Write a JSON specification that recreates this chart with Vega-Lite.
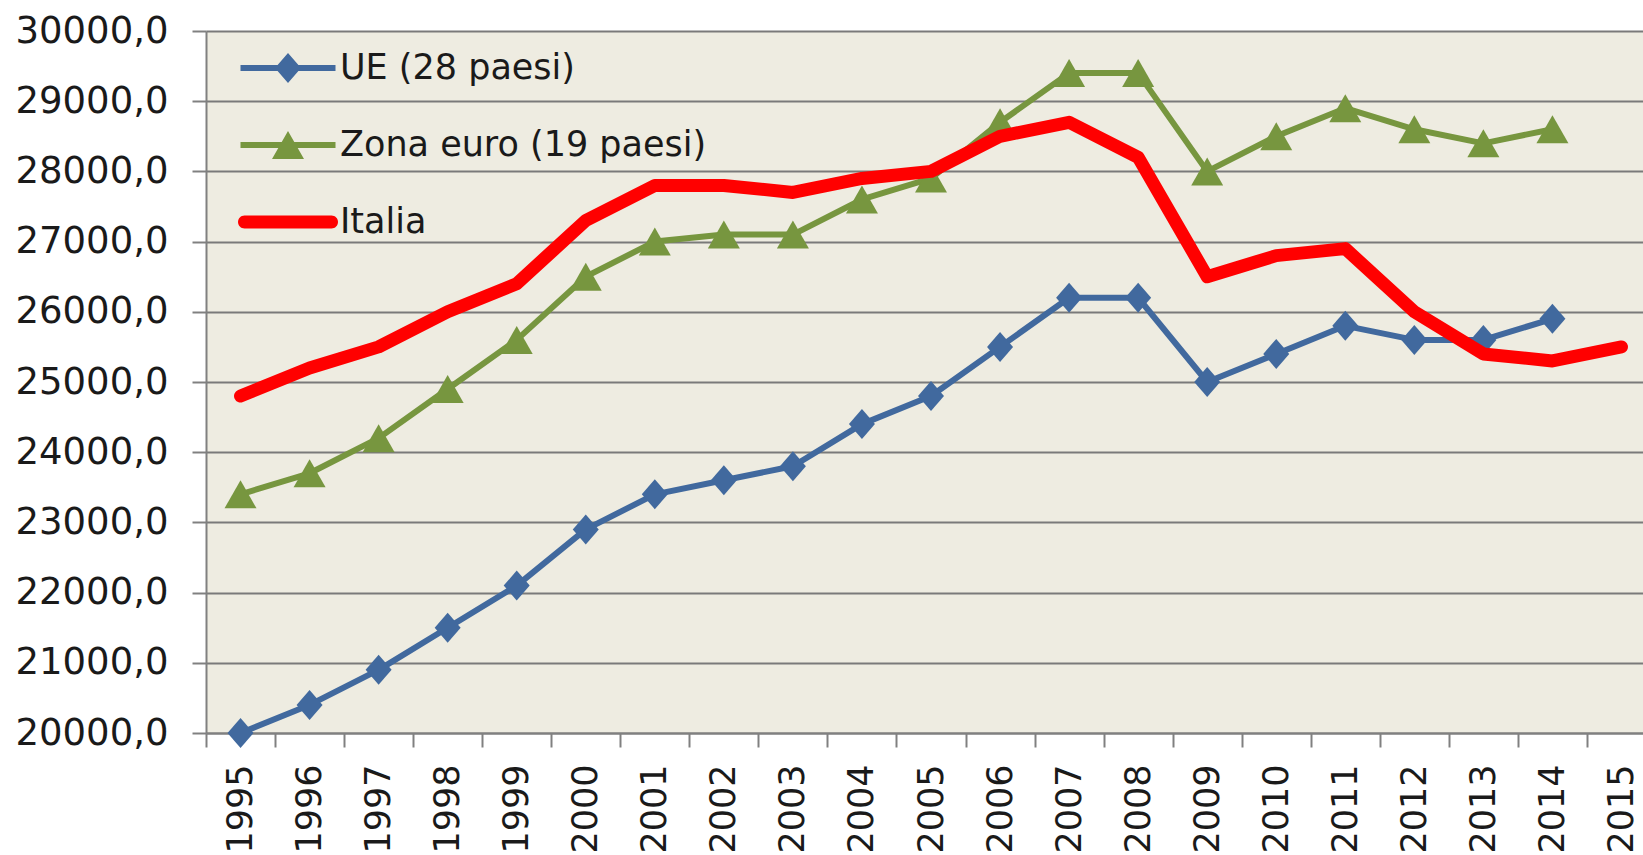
{
  "$schema": "https://vega.github.io/schema/vega-lite/v6.json",
  "autosize": "none",
  "width": 1437,
  "height": 702,
  "padding": {"left": 206, "top": 31, "right": 0, "bottom": 122},
  "background": "white",
  "config": {
    "view": {"fill": "#EEECE1", "stroke": null},
    "font": "DejaVu Sans"
  },
  "datasets": {
    "d": [
      {"year": "1995", "series": "UE (28 paesi)", "value": 20000},
      {"year": "1996", "series": "UE (28 paesi)", "value": 20400},
      {"year": "1997", "series": "UE (28 paesi)", "value": 20900},
      {"year": "1998", "series": "UE (28 paesi)", "value": 21500},
      {"year": "1999", "series": "UE (28 paesi)", "value": 22100},
      {"year": "2000", "series": "UE (28 paesi)", "value": 22900},
      {"year": "2001", "series": "UE (28 paesi)", "value": 23400},
      {"year": "2002", "series": "UE (28 paesi)", "value": 23600},
      {"year": "2003", "series": "UE (28 paesi)", "value": 23800},
      {"year": "2004", "series": "UE (28 paesi)", "value": 24400},
      {"year": "2005", "series": "UE (28 paesi)", "value": 24800},
      {"year": "2006", "series": "UE (28 paesi)", "value": 25500},
      {"year": "2007", "series": "UE (28 paesi)", "value": 26200},
      {"year": "2008", "series": "UE (28 paesi)", "value": 26200},
      {"year": "2009", "series": "UE (28 paesi)", "value": 25000},
      {"year": "2010", "series": "UE (28 paesi)", "value": 25400},
      {"year": "2011", "series": "UE (28 paesi)", "value": 25800},
      {"year": "2012", "series": "UE (28 paesi)", "value": 25600},
      {"year": "2013", "series": "UE (28 paesi)", "value": 25600},
      {"year": "2014", "series": "UE (28 paesi)", "value": 25900},
      {"year": "1995", "series": "Zona euro (19 paesi)", "value": 23400},
      {"year": "1996", "series": "Zona euro (19 paesi)", "value": 23700},
      {"year": "1997", "series": "Zona euro (19 paesi)", "value": 24200},
      {"year": "1998", "series": "Zona euro (19 paesi)", "value": 24900},
      {"year": "1999", "series": "Zona euro (19 paesi)", "value": 25600},
      {"year": "2000", "series": "Zona euro (19 paesi)", "value": 26500},
      {"year": "2001", "series": "Zona euro (19 paesi)", "value": 27000},
      {"year": "2002", "series": "Zona euro (19 paesi)", "value": 27100},
      {"year": "2003", "series": "Zona euro (19 paesi)", "value": 27100},
      {"year": "2004", "series": "Zona euro (19 paesi)", "value": 27600},
      {"year": "2005", "series": "Zona euro (19 paesi)", "value": 27900},
      {"year": "2006", "series": "Zona euro (19 paesi)", "value": 28700},
      {"year": "2007", "series": "Zona euro (19 paesi)", "value": 29400},
      {"year": "2008", "series": "Zona euro (19 paesi)", "value": 29400},
      {"year": "2009", "series": "Zona euro (19 paesi)", "value": 28000},
      {"year": "2010", "series": "Zona euro (19 paesi)", "value": 28500},
      {"year": "2011", "series": "Zona euro (19 paesi)", "value": 28900},
      {"year": "2012", "series": "Zona euro (19 paesi)", "value": 28600},
      {"year": "2013", "series": "Zona euro (19 paesi)", "value": 28400},
      {"year": "2014", "series": "Zona euro (19 paesi)", "value": 28600},
      {"year": "1995", "series": "Italia", "value": 24800},
      {"year": "1996", "series": "Italia", "value": 25200},
      {"year": "1997", "series": "Italia", "value": 25500},
      {"year": "1998", "series": "Italia", "value": 26000},
      {"year": "1999", "series": "Italia", "value": 26400},
      {"year": "2000", "series": "Italia", "value": 27300},
      {"year": "2001", "series": "Italia", "value": 27800},
      {"year": "2002", "series": "Italia", "value": 27800},
      {"year": "2003", "series": "Italia", "value": 27700},
      {"year": "2004", "series": "Italia", "value": 27900},
      {"year": "2005", "series": "Italia", "value": 28000},
      {"year": "2006", "series": "Italia", "value": 28500},
      {"year": "2007", "series": "Italia", "value": 28700},
      {"year": "2008", "series": "Italia", "value": 28200},
      {"year": "2009", "series": "Italia", "value": 26500},
      {"year": "2010", "series": "Italia", "value": 26800},
      {"year": "2011", "series": "Italia", "value": 26900},
      {"year": "2012", "series": "Italia", "value": 26000},
      {"year": "2013", "series": "Italia", "value": 25400},
      {"year": "2014", "series": "Italia", "value": 25300},
      {"year": "2015", "series": "Italia", "value": 25500}
    ]
  },
  "data": {"name": "d"},
  "encoding": {
    "x": {
      "field": "year", "type": "ordinal",
      "scale": {"type": "band", "paddingInner": 0, "paddingOuter": 0, "range": [0, 1450],
        "domain": ["1995","1996","1997","1998","1999","2000","2001","2002","2003","2004","2005","2006","2007","2008","2009","2010","2011","2012","2013","2014","2015"]},
      "axis": {
        "title": null, "labelAngle": -90, "labelFontSize": 35, "labelColor": "#1a1a1a",
        "labelPadding": 17, "tickBand": "extent", "tickSize": 14, "tickColor": "#808080", "tickWidth": 2,
        "domainColor": "#808080", "domainWidth": 2, "grid": false, "labelOverlap": false
      }
    },
    "y": {
      "field": "value", "type": "quantitative",
      "scale": {"domain": [20000, 30000], "nice": false, "zero": false},
      "axis": {
        "title": null, "values": [20000,21000,22000,23000,24000,25000,26000,27000,28000,29000,30000],
        "labelExpr": "replace(format(datum.value, '.1f'), '.', ',')",
        "labelFontSize": 37, "labelColor": "#1a1a1a", "labelPadding": 24,
        "tickSize": 14, "tickColor": "#808080", "tickWidth": 2,
        "domainColor": "#808080", "domainWidth": 2,
        "grid": true, "gridColor": "#7a7a7a", "gridWidth": 2
      }
    },
    "color": {
      "field": "series", "type": "nominal",
      "scale": {"domain": ["UE (28 paesi)", "Zona euro (19 paesi)", "Italia"], "range": ["#41699E", "#77963F", "#FF0000"]},
      "legend": {
        "title": null, "orient": "none", "legendX": 62, "legendY": 17,
        "symbolSize": 1600, "labelOffset": 32, "rowPadding": 39, "labelLimit": 0,
        "labelFontSize": 35, "labelColor": "#1a1a1a", "labelFont": "DejaVu Sans",
        "encode": {
          "symbols": {
            "update": {
              "shape": {"signal": "datum.value === 'Italia' ? 'M-2.175,-0.325H2.175A0.325,0.325,0,0,1,2.175,0.325H-2.175A0.325,0.325,0,0,1,-2.175,-0.325Z' : (datum.value === 'UE (28 paesi)' ? 'M-2.375,-0.15H2.375V0.15H-2.375Z M-0.65,0L0,-0.75L0.65,0L0,0.75Z' : 'M-2.375,-0.15H2.375V0.15H-2.375Z M0,-0.7L0.8,0.7L-0.8,0.7Z')"},
              "fill": {"signal": "scale('color', datum.value)"},
              "stroke": {"value": "transparent"},
              "strokeWidth": {"value": 0},
              "opacity": {"value": 1},
              "fillOpacity": {"value": 1}
            }
          }
        }
      }
    }
  },
  "layer": [
    {
      "transform": [{"filter": "datum.series !== 'Italia'"}],
      "mark": {"type": "line", "strokeWidth": 6, "strokeJoin": "round"}
    },
    {
      "transform": [{"filter": "datum.series !== 'Italia'"}],
      "mark": {"type": "point", "filled": true, "opacity": 1, "size": 400},
      "encoding": {
        "shape": {
          "field": "series", "type": "nominal",
          "scale": {"domain": ["UE (28 paesi)", "Zona euro (19 paesi)"], "range": ["M-1.3,0L0,-1.5L1.3,0L0,1.5Z", "M0,-1.4L1.6,1.4L-1.6,1.4Z"]},
          "legend": null
        }
      }
    },
    {
      "transform": [{"filter": "datum.series === 'Italia'"}],
      "mark": {"type": "line", "strokeWidth": 13, "strokeJoin": "round", "strokeCap": "round"}
    }
  ]
}
